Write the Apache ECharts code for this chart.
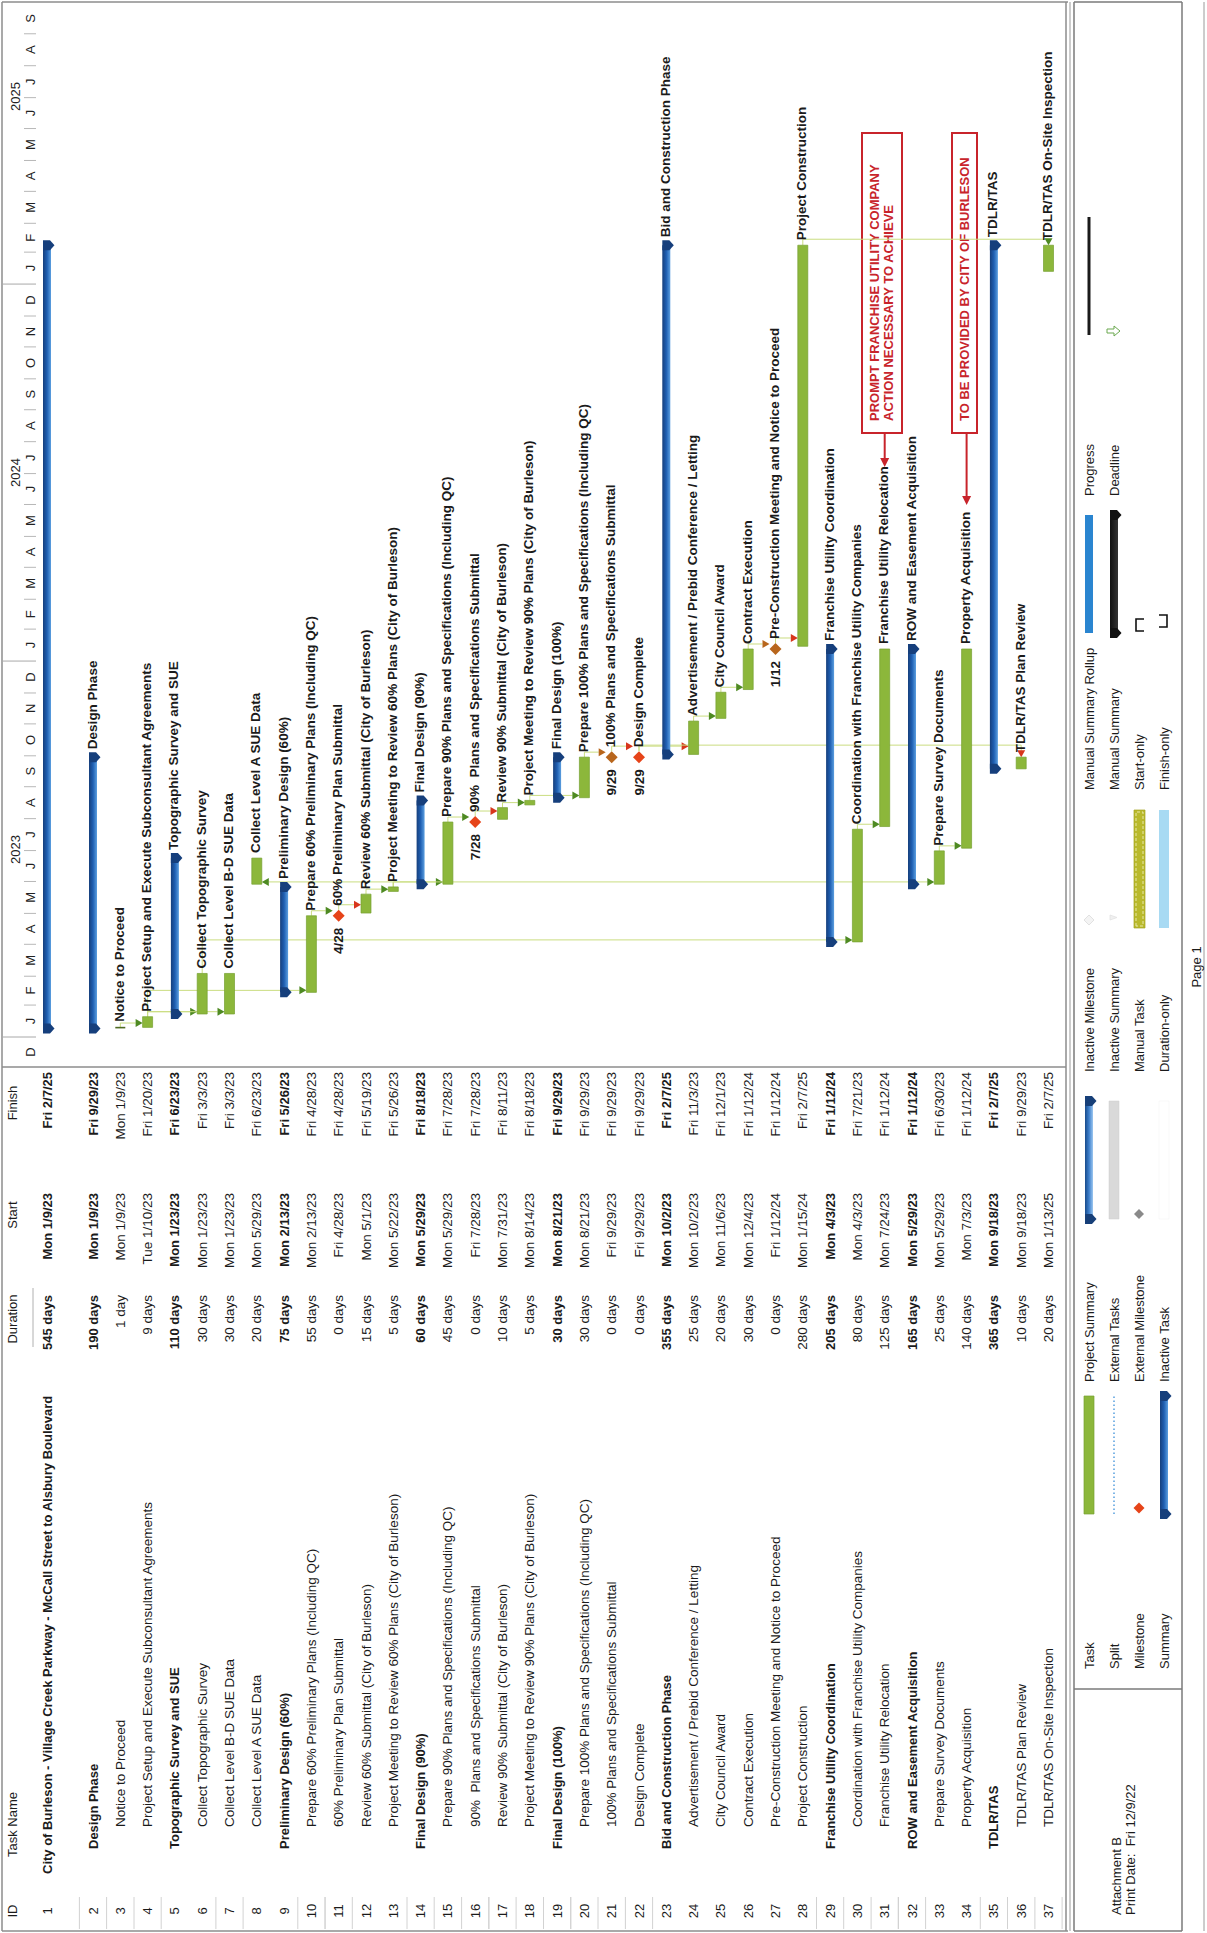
<!DOCTYPE html>
<html>
<head>
<meta charset="utf-8">
<title>Village Creek Parkway Schedule</title>
<script src="https://cdn.jsdelivr.net/npm/echarts@6/dist/echarts.min.js"></script>
<style>
  html, body { margin: 0; padding: 0; width: 1207px; height: 1933px; overflow: hidden; background: #fff; }
  /* The printed schedule is a landscape page turned a quarter turn counter-clockwise */
  #page { position: absolute; left: 0; top: 0; width: 1933px; height: 1207px;
          transform-origin: 0 0; transform: translate(0, 1933px) rotate(-90deg); background: #fff; }
</style>
</head>
<body>
<div id="page"></div>
<script>
// ---------------- schedule data ----------------
const taskIds = [1,2,3,4,5,6,7,8,9,10,11,12,13,14,15,16,17,18,19,20,21,22,23,24,25,26,27,28,29,30,31,32,33,34,35,36,37];
const taskNames = [
  'City of Burleson - Village Creek Parkway - McCall Street to Alsbury Boulevard',
  'Design Phase',
  'Notice to Proceed',
  'Project Setup and Execute Subconsultant Agreements',
  'Topographic Survey and SUE',
  'Collect Topographic Survey',
  'Collect Level B-D SUE Data',
  'Collect Level A SUE Data',
  'Preliminary Design (60%)',
  'Prepare 60% Preliminary Plans (Including QC)',
  '60% Preliminary Plan Submittal',
  'Review 60% Submittal (City of Burleson)',
  'Project Meeting to Review 60% Plans (City of Burleson)',
  'Final Design (90%)',
  'Prepare 90% Plans and Specifications (Including QC)',
  '90%  Plans and Specifications Submittal',
  'Review 90% Submittal (City of Burleson)',
  'Project Meeting to Review 90% Plans (City of Burleson)',
  'Final Design (100%)',
  'Prepare 100% Plans and Specifications (Including QC)',
  '100% Plans and Specifications Submittal',
  'Design Complete',
  'Bid and Construction Phase',
  'Advertisement / Prebid Conference / Letting',
  'City Council Award',
  'Contract Execution',
  'Pre-Construction Meeting and Notice to Proceed',
  'Project Construction',
  'Franchise Utility Coordination',
  'Coordination with Franchise Utility Companies',
  'Franchise Utility Relocation',
  'ROW and Easement Acquisition',
  'Prepare Survey Documents',
  'Property Acquisition',
  'TDLR/TAS',
  'TDLR/TAS Plan Review',
  'TDLR/TAS On-Site Inspection'
];
const durations = ['545 days','190 days','1 day','9 days','110 days','30 days','30 days','20 days','75 days','55 days',
  '0 days','15 days','5 days','60 days','45 days','0 days','10 days','5 days','30 days','30 days','0 days','0 days',
  '355 days','25 days','20 days','30 days','0 days','280 days','205 days','80 days','125 days','165 days','25 days',
  '140 days','365 days','10 days','20 days'];
const startText = ['Mon 1/9/23','Mon 1/9/23','Mon 1/9/23','Tue 1/10/23','Mon 1/23/23','Mon 1/23/23','Mon 1/23/23',
  'Mon 5/29/23','Mon 2/13/23','Mon 2/13/23','Fri 4/28/23','Mon 5/1/23','Mon 5/22/23','Mon 5/29/23','Mon 5/29/23',
  'Fri 7/28/23','Mon 7/31/23','Mon 8/14/23','Mon 8/21/23','Mon 8/21/23','Fri 9/29/23','Fri 9/29/23','Mon 10/2/23',
  'Mon 10/2/23','Mon 11/6/23','Mon 12/4/23','Fri 1/12/24','Mon 1/15/24','Mon 4/3/23','Mon 4/3/23','Mon 7/24/23',
  'Mon 5/29/23','Mon 5/29/23','Mon 7/3/23','Mon 9/18/23','Mon 9/18/23','Mon 1/13/25'];
const finishText = ['Fri 2/7/25','Fri 9/29/23','Mon 1/9/23','Fri 1/20/23','Fri 6/23/23','Fri 3/3/23','Fri 3/3/23',
  'Fri 6/23/23','Fri 5/26/23','Fri 4/28/23','Fri 4/28/23','Fri 5/19/23','Fri 5/26/23','Fri 8/18/23','Fri 7/28/23',
  'Fri 7/28/23','Fri 8/11/23','Fri 8/18/23','Fri 9/29/23','Fri 9/29/23','Fri 9/29/23','Fri 9/29/23','Fri 2/7/25',
  'Fri 11/3/23','Fri 12/1/23','Fri 1/12/24','Fri 1/12/24','Fri 2/7/25','Fri 1/12/24','Fri 7/21/23','Fri 1/12/24',
  'Fri 1/12/24','Fri 6/30/23','Fri 1/12/24','Fri 2/7/25','Fri 9/29/23','Fri 2/7/25'];
// P = project summary, S = summary, T = task, M = milestone
const taskKinds = ['P','S','T','T','S','T','T','T','S','T','M','T','T','S','T','M','T','T','S','T','M','M',
  'S','T','T','T','M','T','S','T','T','S','T','T','S','T','T'];
const brownMilestones = [21, 27];

// dependency links: predecessor -> successor
const linkFrom = [3, 4, 4, 4, 10, 11, 12, 13, 13, 13, 6, 15, 16, 17, 18, 20, 21, 22, 24, 25, 26, 27, 30, 33, 22, 28];
const linkTo   = [4, 6, 7, 10, 11, 12, 13, 8, 15, 33, 30, 16, 17, 18, 20, 21, 22, 24, 25, 26, 27, 28, 31, 34, 36, 37];
const linkType = ['FS','FS','FS','FS','FS','FS','FS','FS','FS','FS','FS','FS','FS','FS','FS','FS','FS','FS','FS',
  'FS','FS','FS','FS','FS','FF','FF'];

// timescale labels
const monthLetters = ['J','F','M','A','M','J','J','A','S','O','N','D'];
const yearLabels = ['2023', '2024', '2025'];

// legend entries, column by column
const legendCols = [
  ['Task', 'Split', 'Milestone', 'Summary'],
  ['Project Summary', 'External Tasks', 'External Milestone', 'Inactive Task'],
  ['Inactive Milestone', 'Inactive Summary', 'Manual Task', 'Duration-only'],
  ['Manual Summary Rollup', 'Manual Summary', 'Start-only', 'Finish-only'],
  ['Progress', 'Deadline']
];
const notes = [
  { lines: ['PROMPT FRANCHISE UTILITY COMPANY', 'ACTION NECESSARY TO ACHIEVE'], task: 31 },
  { lines: ['TO BE PROVIDED BY CITY OF BURLESON'], task: 34 }
];

// ---------------- page layout ----------------
const PAGE_W = 1933, PAGE_H = 1207;
const GRID_LEFT = 866, GRID_W = PAGE_W - GRID_LEFT;
const DAY = 864e5, PX_PER_DAY = 1.03;
const JAN1_2023 = Date.UTC(2023, 0, 1);
const X_MIN = JAN1_2023 - (30 / PX_PER_DAY) * DAY;
const X_MAX = X_MIN + (GRID_W / PX_PER_DAY) * DAY;
const ROW_H = 27.3;
const FIRST_ROW = 47 / ROW_H, SECOND_ROW = 93 / ROW_H;
const FONT = '"Liberation Sans", Arial, sans-serif';
const TEXT = '#1b1b1b';
const F_REG = '13.5px ' + FONT, F_BOLD = 'bold 13px ' + FONT, F_LABEL = 'bold 13.5px ' + FONT, F_SMALL = '13px ' + FONT;

const COL = { id: 22, nameP: 59, nameS: 84, nameT: 106, dur: 638, start: 740, finish: 861 };
const HEAD_Y = 12;

function rowPos(i) { return i === 0 ? FIRST_ROW : SECOND_ROW + (i - 1); }
function parseDay(s) {
  const [m, d, y] = s.split(' ')[1].split('/').map(Number);
  return Date.UTC(2000 + y, m - 1, d);
}
const barStart = startText.map(s => parseDay(s) + DAY * 8 / 24);
const barEnd = finishText.map(s => parseDay(s) + DAY * 17 / 24);
const idx = id => taskIds.indexOf(id);

const C = {
  green: '#8cb73b', greenEdge: '#76a030', greenArrow: '#4e8a22', linkLine: '#cadd80',
  red: '#e64419', redArrow: '#d8361c',
  brown: '#b8661c',
  navy: '#163f7c', blue: '#1f5fb2', light: '#5c9fe0'
};

function txt(x, y, s, font, align, color) {
  return { type: 'text', x: x, y: y, style: { text: s, font: font, fill: color || TEXT, align: align || 'left', verticalAlign: 'middle' } };
}
function summaryShapes(x0, x1, yc, colors) {
  const top = yc - 4;
  const grad = new echarts.graphic.LinearGradient(0, 0, 0, 1, [
    { offset: 0, color: colors[0] }, { offset: 0.5, color: colors[1] }, { offset: 1, color: colors[2] }]);
  const cap = x => [[x - 5, top], [x + 5, top], [x + 5, top + 7], [x, top + 11.5], [x - 5, top + 7]];
  return [
    { type: 'rect', shape: { x: x0, y: top, width: Math.max(x1 - x0, 1), height: 8 }, style: { fill: grad } },
    { type: 'polygon', shape: { points: cap(x0) }, style: { fill: colors[3] } },
    { type: 'polygon', shape: { points: cap(x1) }, style: { fill: colors[3] } }
  ];
}
function diamond(x, y, r, fill) {
  return { type: 'polygon', shape: { points: [[x, y - r], [x + r, y], [x, y + r], [x - r, y]] }, style: { fill: fill } };
}

// ---------------- custom renderers ----------------
function tableItem(params, api) {
  const i = params.dataIndex;
  const y = api.coord([X_MIN, rowPos(i)])[1];
  const kind = taskKinds[i];
  const bold = kind === 'P' || kind === 'S';
  const f = bold ? F_BOLD : F_REG;
  const nx = kind === 'P' ? COL.nameP : (bold ? COL.nameS : COL.nameT);
  return { type: 'group', children: [
    txt(COL.id, y, String(taskIds[i]), F_SMALL, 'center'),
    txt(nx, y, taskNames[i], f, 'left'),
    txt(COL.dur, y, durations[i], f, 'right'),
    txt(COL.start, y, startText[i], f, 'right'),
    txt(COL.finish, y, finishText[i], f, 'right')
  ] };
}

function ganttItem(params, api) {
  const i = params.dataIndex;
  const kind = taskKinds[i];
  const yc = api.coord([X_MIN, rowPos(i)])[1];
  const xs = api.coord([barStart[i], 0])[0];
  const xe = api.coord([barEnd[i], 0])[0];
  const ch = [];
  let lx;
  if (kind === 'T') {
    const w = Math.max(xe - xs, 1.6);
    ch.push({ type: 'rect', shape: { x: xs, y: yc - 5, width: w, height: 10 },
      style: { fill: w < 3 ? '#4f6b22' : C.green, stroke: w < 3 ? null : C.greenEdge, lineWidth: 0.7 } });
    lx = xs + w + 5;
  } else if (kind === 'S' || kind === 'P') {
    summaryShapes(xs, xe, yc, [C.navy, C.blue, C.light, C.navy]).forEach(e => ch.push(e));
    lx = xe + 8;
  } else {
    const col = brownMilestones.indexOf(taskIds[i]) >= 0 ? C.brown : C.red;
    ch.push(diamond(xe, yc, 6, col));
    const parts = finishText[i].split(' ')[1].split('/');
    ch.push(txt(xe - 12, yc, parts[0] + '/' + parts[1], F_LABEL, 'right'));
    lx = xe + 10;
  }
  if (kind !== 'P') ch.push(txt(lx, yc - 1, taskNames[i], F_LABEL, 'left'));
  return { type: 'group', children: ch };
}

function linkItem(params, api) {
  const k = params.dataIndex;
  const a = idx(linkFrom[k]), b = idx(linkTo[k]);
  const ya = api.coord([X_MIN, rowPos(a)])[1];
  const yb = api.coord([X_MIN, rowPos(b)])[1];
  const aEnd = api.coord([barEnd[a], 0])[0] + (taskKinds[a] === 'M' ? 6 : 0);
  const bStart = api.coord([taskKinds[b] === 'M' ? barEnd[b] : barStart[b], 0])[0];
  const bEnd = api.coord([barEnd[b], 0])[0];
  const isBrown = brownMilestones.indexOf(taskIds[b]) >= 0;
  const fromMs = taskKinds[a] === 'M';
  const arrowCol = isBrown ? C.brown : (fromMs ? C.redArrow : C.greenArrow);
  const half = taskKinds[b] === 'M' ? 6 : 5;
  const ch = [];
  if (linkType[k] === 'FF') {
    const xv = Math.max(aEnd, bEnd) + 6;
    ch.push({ type: 'polyline', shape: { points: [[aEnd, ya], [xv, ya], [xv, yb], [bEnd + 6, yb]] },
      style: { stroke: C.linkLine, lineWidth: 1, fill: null } });
    ch.push({ type: 'polygon', shape: { points: [[bEnd, yb], [bEnd + 7, yb - 4], [bEnd + 7, yb + 4]] }, style: { fill: arrowCol } });
  } else {
    const xv = Math.max(bStart + 2, aEnd + 5);
    const down = yb > ya;
    const tip = down ? yb - half : yb + half;
    const base = down ? tip - 7 : tip + 7;
    ch.push({ type: 'polyline', shape: { points: [[aEnd, ya], [xv, ya], [xv, base]] },
      style: { stroke: C.linkLine, lineWidth: 1, fill: null } });
    ch.push({ type: 'polygon', shape: { points: [[xv - 4, base], [xv + 4, base], [xv, tip]] }, style: { fill: arrowCol } });
  }
  return { type: 'group', children: ch };
}

// months and years shown in the timescale
const monthData = [];
for (let y = 2022, m = 11; y < 2025 || (y === 2025 && m <= 8); m++) {
  if (m > 11) { m = 0; y++; }
  const s = Date.UTC(y, m, 1), e = Date.UTC(y, m + 1, 1);
  monthData.push([Math.max(s, X_MIN), Math.min(e, X_MAX), m, s]);
}
function monthItem(params, api) {
  const v = monthData[params.dataIndex];
  const x0 = api.coord([v[0], 0])[0], x1 = api.coord([v[1], 0])[0];
  const xb = api.coord([v[3], 0])[0];
  const ch = [txt((x0 + x1) / 2, 30, monthLetters[v[2]], F_SMALL, 'center', '#222')];
  if (v[3] >= X_MIN) {
    const isYear = v[2] === 0;
    ch.push({ type: 'line', shape: { x1: xb, y1: isYear ? 3 : 24, x2: xb, y2: 36 },
      style: { stroke: isYear ? '#a8a8a8' : '#b8b8b8', lineWidth: 1 } });
  }
  return { type: 'group', children: ch };
}
const yearData = yearLabels.map((s, k) => [Date.UTC(+s, 0, 1), Date.UTC(+s, 6, 2), k]);
function yearItem(params, api) {
  const v = yearData[params.dataIndex];
  const x = api.coord([v[1], 0])[0];
  return txt(x, 15, yearLabels[v[2]], F_SMALL, 'center', '#222');
}

// ---------------- page furniture: frame, header, notes, legend ----------------
const graphics = [];
function gLine(x1, y1, x2, y2, stroke, w, dash) {
  graphics.push({ type: 'line', silent: true, shape: { x1, y1, x2, y2 }, style: { stroke, lineWidth: w || 1, lineDash: dash || null } });
}
function gText(x, y, s, font, align, color) {
  const t = txt(x, y, s, font, align, color); t.silent = true; graphics.push(t);
}
// frame
gLine(2, 2, 1931, 2, '#8c8c8c', 1.5);
gLine(2, 2, 2, 1068, '#8c8c8c', 1.5);
gLine(1931, 2, 1931, 1068, '#8c8c8c', 1.5);
gLine(2, 1066, 1931, 1066, '#8c8c8c', 1.5);
gLine(2, 1070, 1931, 1070, '#9a9a9a', 1);
gLine(GRID_LEFT, 2, GRID_LEFT, 1066, '#8c8c8c', 1.5);
// table header
gText(COL.id, HEAD_Y, 'ID', F_SMALL, 'center');
gText(76, HEAD_Y, 'Task Name', F_SMALL, 'left');
gText(614, HEAD_Y, 'Duration', F_SMALL, 'center');
gText(718, HEAD_Y, 'Start', F_SMALL, 'center');
gText(830, HEAD_Y, 'Finish', F_SMALL, 'center');
gLine(586, 33, 645, 33, '#b0b0b0', 1);
// light cell marks in the ID column
[2, 4, 7, 10, 11, 14, 16, 17, 19, 20, 22, 29, 31, 32, 35, 37].forEach(id => {
  const y = (SECOND_ROW + (id - 2)) * ROW_H;
  gLine(4, y - 13.6, 36, y - 13.6, '#d2d2d2', 1);
  gLine(4, y + 13.6, 36, y + 13.6, '#d2d2d2', 1);
});

// red call-out boxes
notes.forEach((n, k) => {
  const yRow = (SECOND_ROW + (n.task - 2)) * ROW_H;
  const top = k === 0 ? 862 : 952, h = k === 0 ? 40 : 25;
  graphics.push({ type: 'rect', silent: true, shape: { x: 1500, y: top, width: 300, height: h },
    style: { fill: '#fff', stroke: '#c8242b', lineWidth: 2 } });
  n.lines.forEach((s, j) => gText(1512, top + (k === 0 ? 12 + j * 14.5 : 12.5), s, 'bold 13px ' + FONT, 'left', '#c8242b'));
  const tip = k === 0 ? 1466 : 1428;
  gLine(1500, yRow, tip + 7, yRow, '#c8242b', 2);
  graphics.push({ type: 'polygon', silent: true, shape: { points: [[tip, yRow], [tip + 9, yRow - 4.5], [tip + 9, yRow + 4.5]] },
    style: { fill: '#c8242b' } });
});

// legend block
gLine(2, 1074, 1931, 1074, '#7a7a7a', 1.5);
gLine(2, 1182, 1931, 1182, '#7a7a7a', 1.5);
gLine(2, 1074, 2, 1182, '#7a7a7a', 1.5);
gLine(1931, 1074, 1931, 1182, '#7a7a7a', 1.5);
gLine(244, 1074, 244, 1182, '#7a7a7a', 1.5);
gLine(2, 1204, 1931, 1204, '#9a9a9a', 1);
gText(18, 1116, 'Attachment B', F_SMALL, 'left');
gText(18, 1130, 'Print Date:  Fri 12/9/22', F_SMALL, 'left');
gText(966, 1196, 'Page 1', F_SMALL, 'center');

const legRows = [1089, 1114, 1139, 1164];
const legLabelX = [264, 551, 861, 1143, 1437];
const legSymX = [419, 714, 1005, 1300, 1598];
const SW = 118;
legendCols.forEach((col, c) => col.forEach((s, r) => gText(legLabelX[c], legRows[r], s, F_SMALL, 'left')));
function legRect(x, y, w, h, style) { graphics.push({ type: 'rect', silent: true, shape: { x, y, width: w, height: h }, style }); }
function legSummary(x, y, colors) {
  summaryShapes(x, x + SW, y, colors).forEach(e => { e.silent = true; graphics.push(e); });
}
// column 1
legRect(legSymX[0], legRows[0] - 5, SW, 10, { fill: C.green, stroke: C.greenEdge, lineWidth: 0.7 });
gLine(legSymX[0], legRows[1], legSymX[0] + SW, legRows[1], '#7fb6e6', 2, [1.5, 2.5]);
graphics.push(Object.assign(diamond(legSymX[0] + 6, legRows[2], 5.5, C.red), { silent: true }));
legSummary(legSymX[0], legRows[3], [C.navy, C.blue, C.light, C.navy]);
// column 2
legSummary(legSymX[1], legRows[0], ['#174a8a', '#3d7fcc', '#9cc7f0', '#173f78']);
legRect(legSymX[1], legRows[1] - 5, SW, 10, { fill: '#d9d9d9', stroke: '#cfcfcf', lineWidth: 0.5 });
graphics.push(Object.assign(diamond(legSymX[1] + 5, legRows[2], 5, '#8a8a8a'), { silent: true }));
legRect(legSymX[1], legRows[3] - 5, SW, 10, { fill: '#fff', stroke: '#f0f0f0', lineWidth: 0.5 });
// column 3
graphics.push({ type: 'polygon', silent: true, shape: { points: [[legSymX[2] + 8, legRows[0] - 5], [legSymX[2] + 13, legRows[0]], [legSymX[2] + 8, legRows[0] + 5], [legSymX[2] + 3, legRows[0]]] },
  style: { fill: '#f4f4f4', stroke: '#dadada', lineWidth: 0.8 } });
graphics.push({ type: 'polygon', silent: true, shape: { points: [[legSymX[2] + 8, legRows[1] - 4], [legSymX[2] + 13, legRows[1] - 4], [legSymX[2] + 10.5, legRows[1] + 3]] },
  style: { fill: '#f0f0f0', stroke: '#e2e2e2', lineWidth: 0.8 } });
legRect(legSymX[2], legRows[2] - 5, SW, 11, { fill: '#b9b92c', stroke: '#a5a520', lineWidth: 0.7 });
legRect(legSymX[2] + 2, legRows[2] - 3, SW - 4, 7, { fill: null, stroke: '#f3f3c8', lineWidth: 0.8, lineDash: [3, 2] });
legRect(legSymX[2], legRows[3] - 5, SW, 10, { fill: '#a8daf3' });
// column 4
legRect(legSymX[3], legRows[0] - 4, SW, 8, { fill: '#2a85d0' });
legSummary(legSymX[3], legRows[1], ['#111', '#222', '#333', '#111']);
graphics.push({ type: 'polyline', silent: true, shape: { points: [[legSymX[3] + 2, legRows[2] + 5], [legSymX[3] + 2, legRows[2] - 3], [legSymX[3] + 14, legRows[2] - 3], [legSymX[3] + 14, legRows[2] + 5]] },
  style: { stroke: '#111', lineWidth: 1.6, fill: null } });
graphics.push({ type: 'polyline', silent: true, shape: { points: [[legSymX[3] + 6, legRows[3] - 5], [legSymX[3] + 6, legRows[3] + 3], [legSymX[3] + 18, legRows[3] + 3], [legSymX[3] + 18, legRows[3] - 5]] },
  style: { stroke: '#111', lineWidth: 1.6, fill: null } });
// column 5
legRect(legSymX[4], legRows[0] - 1.5, SW, 3, { fill: '#1a1a1a' });
graphics.push({ type: 'polygon', silent: true, shape: { points: [
  [legSymX[4] + 2, legRows[1] - 7], [legSymX[4] + 6, legRows[1] - 7], [legSymX[4] + 6, legRows[1]], [legSymX[4] + 9, legRows[1]],
  [legSymX[4] + 4, legRows[1] + 6], [legSymX[4] - 1, legRows[1]], [legSymX[4] + 2, legRows[1]]] },
  style: { fill: '#fff', stroke: '#6aa84f', lineWidth: 1 } });

// ---------------- chart ----------------
const chart = echarts.init(document.getElementById('page'), null, { renderer: 'svg', width: PAGE_W, height: PAGE_H });
const taskData = taskIds.map((id, i) => [barStart[i], rowPos(i)]);
chart.setOption({
  animation: false,
  backgroundColor: '#fff',
  grid: { left: GRID_LEFT, top: 0, width: GRID_W, height: PAGE_H },
  xAxis: { type: 'time', min: X_MIN, max: X_MAX, show: false },
  yAxis: { type: 'value', min: 0, max: PAGE_H / ROW_H, inverse: true, show: false },
  series: [
    { name: 'links', type: 'custom', silent: true, renderItem: linkItem, clip: false,
      data: linkFrom.map((f, k) => [barEnd[idx(f)], rowPos(idx(f))]), z: 2 },
    { name: 'bars', type: 'custom', silent: true, renderItem: ganttItem, clip: false, data: taskData, z: 3 },
    { name: 'table', type: 'custom', silent: true, renderItem: tableItem, clip: false, data: taskData, z: 3 },
    { name: 'months', type: 'custom', silent: true, renderItem: monthItem, clip: false,
      data: monthData.map(v => [v[0], 1]), z: 3 },
    { name: 'years', type: 'custom', silent: true, renderItem: yearItem, clip: false,
      data: yearData.map(v => [v[1], 0.5]), z: 3 }
  ],
  graphic: { elements: graphics }
});
</script>
</body>
</html>
